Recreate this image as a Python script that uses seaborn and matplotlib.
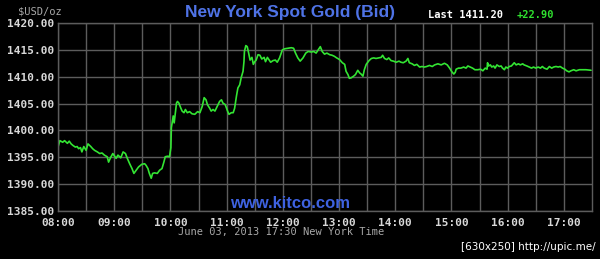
import matplotlib
matplotlib.use("Agg")
import matplotlib.pyplot as plt
import seaborn as sns
import pandas as pd

# ---- data (minutes after 08:00, New York time) ----
minutes = [
    0, 2, 5, 7, 10, 12, 14, 16, 18.5, 20.5, 22, 24, 25.5, 27.5, 30, 32, 35, 37, 39, 42,
    44.5, 47, 49.5, 52.5, 54, 56, 58.5, 60.5, 62, 64, 67, 69.5, 72, 74, 76.5, 79, 81, 83.5,
    86, 89.5, 92.5, 94, 96, 97.5, 99.5, 101, 103, 106, 108.5, 111, 113, 114.5, 117, 119,
    120.5, 121, 123, 124, 125.5, 126.5, 127.5, 129, 131, 132.5, 134.5, 136, 138, 140.5, 143,
    146, 149, 151.5, 154, 156, 158, 159.5, 162, 163.5, 165.5, 167.5, 170, 172.5, 174.5, 176,
    178.5, 181, 182.5, 185, 187, 188.5, 190.5, 192, 194, 195.5, 197.5, 198.5, 199, 200.5,
    202, 203.5, 205, 207, 208.5, 210, 211.5, 213.5, 215.5, 217.5, 220, 221.5, 223.5, 225.5,
    227, 229.5, 232, 234, 236.5,
    239.5, 242, 245.5, 249, 251.5, 253.5, 256, 258.5, 261.5, 264.5, 267, 270.5, 273, 275.5,
    278.5, 280, 282, 284.5, 287, 290, 292.5, 295, 297.5, 300.5, 303.5, 306, 307.5, 309.5,
    311, 313, 315.5, 317.5, 320, 322, 323.5, 325.5, 327, 329, 332, 334.5, 337, 339.5, 342.5,
    345, 346.5, 348.5, 351, 353, 355.5, 358, 361, 364, 366, 368.5, 371.5, 373.5, 375, 378,
    380.5, 383, 386, 388.5, 391, 393.5, 396.5, 399.5,
    402, 405.5, 409, 412.5, 415.5, 418, 420.5, 422.5, 424, 425, 427.5, 430, 433, 435.5,
    437.5, 440, 442.5, 445, 448, 451, 453.5, 456, 458, 458.5, 459.5, 461.5, 463, 465, 466.5,
    468.5, 471, 473, 474.5, 476.5, 478, 480, 481.5, 484, 487, 489, 491.5, 493.5, 496, 497.5,
    500.5, 503, 505.5, 507.5, 510, 512.5, 515, 517, 519, 522, 524.5, 527, 529, 531.5, 534,
    536, 538.5, 541, 543, 545.5, 547.5, 550.5, 553, 556.5, 560, 563.5, 569,
]
bid = [
    1396.9, 1398.1, 1397.8, 1398.1, 1397.6, 1398.0, 1397.5, 1397.2, 1396.9, 1397.0, 1396.6,
    1396.8, 1396.0, 1397.0, 1396.3, 1397.5, 1397.0, 1396.6, 1396.3, 1396.0, 1395.7, 1395.8,
    1395.4, 1395.1, 1394.1, 1394.9, 1395.7, 1395.2, 1394.8, 1395.4, 1394.9, 1396.0, 1395.7,
    1394.8, 1393.8, 1392.9, 1392.0, 1392.6, 1393.2, 1393.7, 1393.8, 1393.5, 1392.9, 1392.0,
    1391.1, 1392.0, 1392.1, 1392.0, 1392.6, 1392.9, 1394.1, 1395.1, 1395.2, 1395.1,
    1396.8, 1400.5, 1402.7, 1401.4, 1403.6, 1405.1, 1405.4, 1405.1, 1404.2, 1403.6, 1403.3,
    1403.9, 1403.3, 1403.5, 1403.1, 1403.0, 1403.5, 1403.3, 1404.5, 1406.1, 1405.7, 1404.8,
    1404.1, 1403.6, 1403.9, 1403.6, 1404.5, 1405.4, 1405.7, 1405.1, 1404.8, 1403.6, 1403.0,
    1403.3, 1403.3, 1404.1, 1406.4, 1407.9, 1408.5, 1409.8, 1411.0, 1412.8, 1414.7, 1415.8,
    1415.6, 1414.4, 1413.1, 1413.6, 1412.3, 1412.8, 1413.1, 1414.1, 1414.0, 1413.3, 1413.6,
    1412.8, 1413.6, 1413.1, 1412.7, 1413.0, 1413.1, 1412.7, 1413.5,
    1415.0, 1415.2, 1415.3, 1415.4, 1415.3, 1414.4, 1413.5, 1412.9, 1413.5, 1414.4, 1414.7,
    1414.6, 1414.7, 1414.4, 1415.2, 1415.6, 1414.7, 1414.2, 1414.4, 1414.1, 1414.0, 1413.8,
    1413.5, 1413.2, 1412.6, 1412.3, 1411.0, 1410.4, 1409.7, 1409.8, 1410.1, 1410.4, 1411.2,
    1410.7, 1410.5, 1410.1, 1411.3, 1412.3, 1413.0, 1413.4, 1413.5, 1413.4, 1413.5, 1413.6,
    1414.0, 1413.4, 1413.2, 1413.5, 1413.0, 1412.9, 1412.7, 1412.9, 1412.7, 1412.6, 1412.9,
    1413.4, 1412.6, 1412.4, 1412.1, 1412.3, 1411.8, 1411.9, 1411.8, 1411.9, 1412.1, 1411.9,
    1412.2, 1412.4, 1412.2, 1412.5, 1412.2, 1411.6, 1410.9, 1410.5, 1410.8, 1411.4, 1411.6,
    1411.6, 1411.8, 1411.6, 1412.0, 1411.8, 1411.6, 1411.3, 1411.3, 1411.4, 1411.1, 1411.6,
    1411.4, 1412.6, 1412.0, 1412.2, 1411.8, 1412.0, 1411.6, 1412.2, 1411.9, 1412.0, 1411.6,
    1411.3, 1411.8, 1411.6, 1411.9, 1412.0, 1412.6, 1412.2, 1412.4, 1412.2, 1412.4, 1412.2,
    1412.0, 1411.8, 1411.6, 1411.8, 1411.6, 1411.8, 1411.6, 1411.9, 1411.6, 1411.4, 1411.9,
    1411.6, 1411.8, 1411.9, 1411.8, 1411.9, 1411.6, 1411.4, 1411.1, 1410.9, 1411.1, 1411.3,
    1411.1, 1411.3, 1411.3, 1411.3, 1411.2,
]
hour_labels = ["08:00", "09:00", "10:00", "11:00", "12:00", "13:00", "14:00",
               "15:00", "16:00", "17:00"]
price_ticks = [1385, 1390, 1395, 1400, 1405, 1410, 1415, 1420]
title = "New York Spot Gold (Bid)"
last_price = "1411.20"
change = "+22.90"

df = pd.DataFrame({"minutes": minutes, "bid": bid})

sns.set_theme(style="dark")
plt.rcParams["font.family"] = ["DejaVu Sans"]

fig = plt.figure(figsize=(6.0, 2.59), dpi=100, facecolor="black")
ax = fig.add_axes([58 / 600, 1 - 211 / 259, (592 - 58) / 600, (211 - 23) / 259])
ax.set_facecolor("black")

sns.lineplot(data=df, x="minutes", y="bid", ax=ax, color="#33e433", linewidth=1.2)

ax.set_xlim(0, 570)
ax.set_ylim(1385, 1420)
ax.set_xticks([i * 60 for i in range(len(hour_labels))])
ax.set_xticklabels(hour_labels)
ax.set_xticks([i * 30 for i in range(19)], minor=True)
ax.set_yticks(price_ticks)
ax.set_yticklabels([f"{v:.2f}" for v in price_ticks])

grid_c = "#5c5c5c"
ax.grid(True, which="both", color=grid_c, linewidth=1.0)
ax.tick_params(which="both", length=0, colors="#d8d8d8")
ax.tick_params(axis="x", pad=5)
ax.tick_params(axis="y", pad=3)
for lab in ax.get_xticklabels() + ax.get_yticklabels():
    lab.set_fontfamily("DejaVu Sans Mono")
    lab.set_fontweight("bold")
    lab.set_fontsize(8)
    lab.set_color("#d8d8d8")
for s in ax.spines.values():
    s.set_color(grid_c)
    s.set_linewidth(1.0)
ax.set_xlabel("")
ax.set_ylabel("")

fig.text(290 / 600, 1 - 13 / 259, title, ha="center", va="center",
         color="#4f73e6", fontsize=12.5, fontweight="bold", family="Liberation Sans")
fig.text(18 / 600, 1 - 11 / 259, "$USD/oz", ha="left", va="center",
         color="#a8a8a8", fontsize=7.5, family="DejaVu Sans Mono")
fig.text(428 / 600, 1 - 15 / 259, f"Last {last_price}", ha="left", va="center",
         color="white", fontsize=7.5, fontweight="bold", family="DejaVu Sans Mono")
fig.text(517 / 600, 1 - 15 / 259, change, ha="left", va="center",
         color="#2fe02f", fontsize=7.5, fontweight="bold", family="DejaVu Sans Mono")
fig.text(290 / 600, 1 - 203 / 259, "www.kitco.com", ha="center", va="center",
         color="#3e62e0", fontsize=12, fontweight="bold", family="Liberation Sans")
fig.text(281 / 600, 1 - 232 / 259, "June 03, 2013 17:30 New York Time", ha="center",
         va="center", color="#a8a8a8", fontsize=7.5, family="DejaVu Sans Mono")
fig.text(596 / 600, 1 - 247 / 259, "[630x250] http://upic.me/", ha="right", va="center",
         color="white", fontsize=7.5, family="DejaVu Sans")

fig.savefig("out.png", dpi=100, facecolor="black")
